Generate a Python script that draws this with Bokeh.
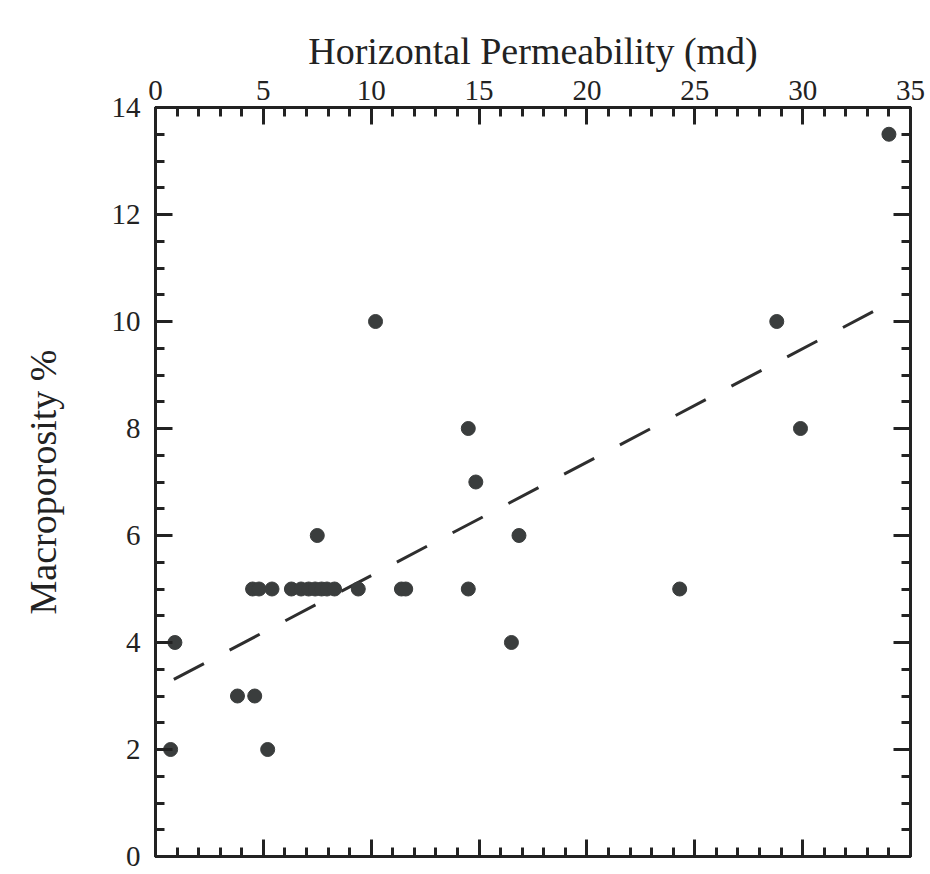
from bokeh.plotting import figure
from bokeh.models import Range1d, LinearAxis, FixedTicker, ColumnDataSource
from bokeh.embed import file_html
from bokeh.resources import INLINE

# ---- data ----
perm = [0.7, 0.9, 3.8, 4.6, 5.2,
        4.5, 4.8, 5.4, 6.3, 6.75, 7.1, 7.4, 7.7, 7.95, 8.3, 9.4, 11.4, 11.6,
        7.5, 10.2, 14.5, 14.85, 16.85, 14.5, 16.5, 24.3, 28.8, 29.9, 34.0]
macro = [2, 4, 3, 3, 2,
         5, 5, 5, 5, 5, 5, 5, 5, 5, 5, 5, 5, 5,
         6, 10, 8, 7, 6, 5, 4, 5, 10, 8, 13.5]

trend_x = [0.85, 34.0]
trend_y = [3.31, 10.34]

x_major = [0, 5, 10, 15, 20, 25, 30, 35]
x_minor = list(range(0, 36))
y_major = [0, 2, 4, 6, 8, 10, 12, 14]
y_minor = [i * 0.5 for i in range(0, 29)]

x_title = "Horizontal Permeability (md)"
y_title = "Macroporosity %"

INK = "#222222"
DOT = "#3a3d3d"
FONT = "Liberation Serif"

p = figure(width=930, height=874, output_backend="svg", toolbar_location=None,
           x_range=Range1d(0, 35), y_range=Range1d(0, 14),
           x_axis_location="above", y_axis_location="left",
           min_border_left=155, min_border_right=20,
           min_border_top=107, min_border_bottom=18)
p.grid.visible = False
p.background_fill_color = "white"
p.border_fill_color = "white"
p.outline_line_color = INK
p.outline_line_width = 3


def style(ax, major, minor, labels):
    ax.ticker = FixedTicker(ticks=major, minor_ticks=minor)
    ax.major_tick_in = 17
    ax.major_tick_out = 0
    ax.minor_tick_in = 9
    ax.minor_tick_out = 0
    ax.axis_line_width = 3
    ax.axis_line_color = INK
    ax.major_tick_line_width = 3
    ax.minor_tick_line_width = 3
    ax.major_tick_line_color = INK
    ax.minor_tick_line_color = INK
    if labels:
        ax.major_label_text_font = FONT
        ax.major_label_text_font_size = "29px"
        ax.major_label_text_color = INK
        ax.axis_label_text_font = FONT
        ax.axis_label_text_font_size = "38px"
        ax.axis_label_text_font_style = "normal"
        ax.axis_label_text_color = INK
    else:
        # tick marks only on the bottom / right frame sides
        ax.major_label_overrides = {t: "" for t in major}
        ax.major_label_text_font_size = "1px"
        ax.major_label_standoff = 0


top = p.xaxis[0]
style(top, x_major, x_minor, True)
top.axis_label = x_title
top.major_label_standoff = 8
top.axis_label_standoff = 6

left = p.yaxis[0]
style(left, y_major, y_minor, True)
left.axis_label = y_title
left.major_label_standoff = 15
left.axis_label_standoff = 45

bottom = LinearAxis()
style(bottom, x_major, x_minor, False)
p.add_layout(bottom, "below")

right = LinearAxis()
style(right, y_major, y_minor, False)
p.add_layout(right, "right")

p.line(trend_x, trend_y, line_color="#2e2e2e", line_width=3,
       line_dash="34 29", line_cap="butt")

src = ColumnDataSource(dict(x=perm, y=macro))
p.scatter("x", "y", source=src, size=14, fill_color=DOT, line_color=DOT)

open("out.html", "w").write(file_html(p, INLINE))
